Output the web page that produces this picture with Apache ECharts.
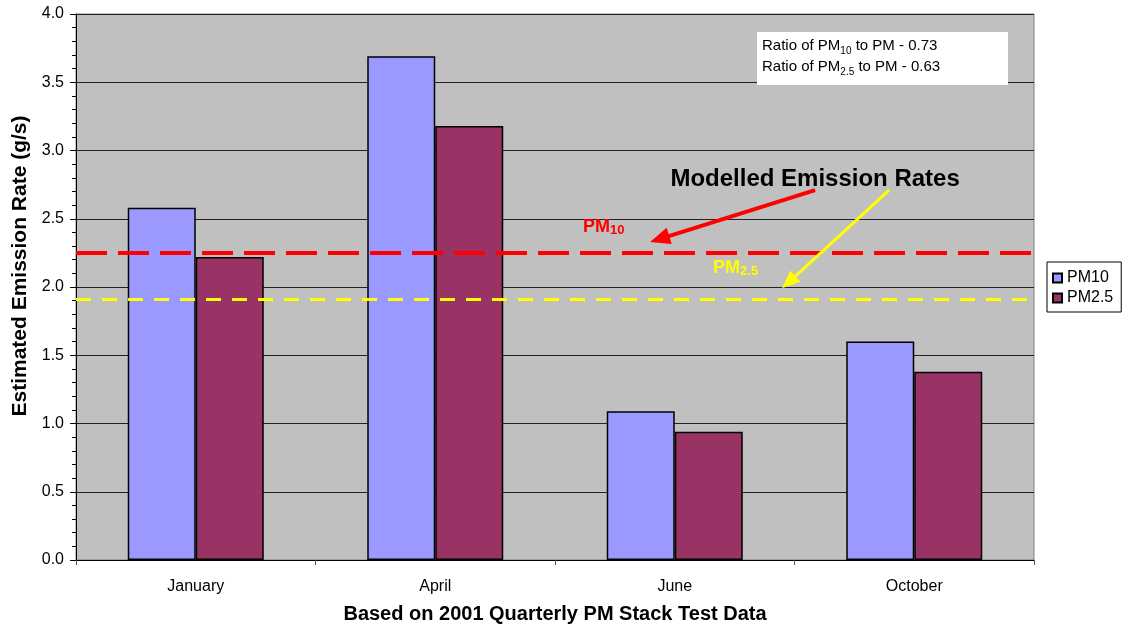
<!DOCTYPE html>
<html>
<head>
<meta charset="utf-8">
<script src="https://cdn.jsdelivr.net/npm/echarts@6/dist/echarts.min.js"></script>
<style>
  html, body { margin: 0; padding: 0; background: #ffffff; }
  #chart { width: 1122px; height: 629px; }
</style>
</head>
<body>
<div id="chart"></div>
<script>
// Quarterly stack test months
const months = ['January', 'April', 'June', 'October'];
// Estimated emission rates (g/s)
const pm10 = [2.58, 3.69, 1.09, 1.60];
const pm25 = [2.22, 3.18, 0.94, 1.38];
// Modelled emission rates (g/s)
const modelledPm10 = 2.25;
const modelledPm25 = 1.91;
// Ratios quoted in the note box
const ratioPm10 = 0.73;
const ratioPm25 = 0.63;
// Y axis range
const yMin = 0, yMax = 4, yStep = 0.5;

const FONT = "'Liberation Sans', Arial, sans-serif";
const chart = echarts.init(document.getElementById('chart'));

const option = {
  animation: false,
  backgroundColor: '#ffffff',
  textStyle: { fontFamily: FONT },
  grid: {
    left: 76, right: 88, top: 14, bottom: 69,
    show: true, backgroundColor: '#C0C0C0', borderColor: '#808080', borderWidth: 1
  },
  legend: {
    orient: 'vertical',
    left: 1047, top: 262,
    padding: [8, 8, 6, 5],
    itemGap: 4,
    itemWidth: 9, itemHeight: 9,
    icon: 'rect',
    backgroundColor: '#ffffff',
    borderColor: '#000000', borderWidth: 1,
    textStyle: { fontSize: 16, color: '#000', fontFamily: FONT },
    data: ['PM10', 'PM2.5']
  },
  xAxis: [{
    type: 'category',
    data: months,
    name: 'Based on 2001 Quarterly PM Stack Test Data',
    nameLocation: 'middle',
    nameGap: 44,
    nameTextStyle: { fontSize: 20, fontWeight: 'bold', color: '#000', fontFamily: FONT },
    axisLine: { lineStyle: { color: '#000', width: 1 } },
    axisTick: { show: true, alignWithLabel: false, interval: 0, length: 5, lineStyle: { color: '#555' } },
    axisLabel: { fontSize: 16, color: '#000', margin: 19, fontFamily: FONT },
    splitLine: { show: false }
  }, {
    // value axis spanning the same width, used to place the annotations
    type: 'value', min: 0, max: 4, show: false
  }],
  yAxis: {
    type: 'value',
    min: yMin, max: yMax, interval: yStep,
    axisLine: { show: true, lineStyle: { color: '#000', width: 1 } },
    axisTick: { show: true, length: 6, lineStyle: { color: '#000' } },
    minorTick: { show: true, splitNumber: 5, length: 4, lineStyle: { color: '#000' } },
    axisLabel: { fontSize: 16, color: '#000', margin: 12, fontFamily: FONT,
      formatter: v => v.toFixed(1) },
    splitLine: { show: true, lineStyle: { color: '#222', width: 1 } }
  },
  series: [{
    name: 'PM10',
    type: 'bar',
    data: pm10,
    barWidth: 68,
    barGap: '0%',
    itemStyle: { color: '#9999FF', borderColor: '#000', borderWidth: 1.5 },
    markLine: {
      silent: true,
      symbol: ['none', 'none'],
      label: { show: false },
      z: 5,
      data: [
        { yAxis: modelledPm10, lineStyle: { color: '#FF0000', width: 4, type: [31, 11] } },
        { yAxis: modelledPm25, lineStyle: { color: '#FFFF00', width: 3, type: [15, 11] } }
      ]
    }
  }, {
    name: 'PM2.5',
    type: 'bar',
    data: pm25,
    barWidth: 68,
    barGap: '0%',
    itemStyle: { color: '#993366', borderColor: '#000', borderWidth: 1.5 }
  }]
};
chart.setOption(option);

// Annotation anchors in data space (x: 0..4 across the categories, y: g/s)
const px = p => chart.convertToPixel({ xAxisIndex: 1, yAxisIndex: 0 }, p);

function arrow(from, to, color, width, headLen, headW) {
  const a = px(from), b = px(to);
  const dx = b[0] - a[0], dy = b[1] - a[1];
  const len = Math.hypot(dx, dy), ux = dx / len, uy = dy / len;
  const bx = b[0] - ux * headLen, by = b[1] - uy * headLen;
  const nx = -uy * headW / 2, ny = ux * headW / 2;
  return [{
    type: 'line', z: 20,
    shape: { x1: a[0], y1: a[1], x2: bx + ux * 2, y2: by + uy * 2 },
    style: { stroke: color, lineWidth: width }
  }, {
    type: 'polygon', z: 20,
    shape: { points: [[b[0], b[1]], [bx + nx, by + ny], [bx - nx, by - ny]] },
    style: { fill: color }
  }];
}

const title = px([3.086, 2.79]);
const lbl10 = px([2.117, 2.37]);
const lbl25 = px([2.66, 2.07]);
const yTitle = [20, 266];

const graphics = [
  // y axis title
  {
    type: 'text', z: 21, x: yTitle[0], y: yTitle[1],
    rotation: Math.PI / 2,
    style: { text: 'Estimated Emission Rate (g/s)', font: 'bold 21px ' + FONT, fill: '#000',
      align: 'center', verticalAlign: 'middle' }
  },
  // note box with the ratios
  {
    type: 'rect', z: 20, left: 757, top: 32,
    shape: { width: 251, height: 53 },
    style: { fill: '#ffffff' }
  },
  {
    type: 'text', z: 21, left: 762, top: 35,
    style: {
      text: 'Ratio of PM{s|10} to PM - ' + ratioPm10.toFixed(2) + '\nRatio of PM{s|2.5} to PM - ' + ratioPm25.toFixed(2),
      font: '15px ' + FONT, fill: '#000', lineHeight: 21,
      rich: { s: { fontSize: 10, fontFamily: FONT, fill: '#000', verticalAlign: 'bottom', lineHeight: 14 } }
    }
  },
  {
    type: 'text', z: 21, x: title[0], y: title[1],
    style: { text: 'Modelled Emission Rates', font: 'bold 24px ' + FONT, fill: '#000',
      align: 'center', verticalAlign: 'middle' }
  },
  {
    type: 'text', z: 21, x: lbl10[0], y: lbl10[1],
    style: { text: 'PM{s|10}', font: 'bold 18px ' + FONT, fill: '#FF0000', verticalAlign: 'bottom',
      rich: { s: { fontSize: 13, fontWeight: 'bold', fontFamily: FONT, fill: '#FF0000', verticalAlign: 'bottom' } } }
  },
  {
    type: 'text', z: 21, x: lbl25[0], y: lbl25[1],
    style: { text: 'PM{s|2.5}', font: 'bold 18px ' + FONT, fill: '#FFFF00', verticalAlign: 'bottom',
      rich: { s: { fontSize: 13, fontWeight: 'bold', fontFamily: FONT, fill: '#FFFF00', verticalAlign: 'bottom' } } }
  }
].concat(
  arrow([3.086, 2.71], [2.397, 2.33], '#FF0000', 4, 20, 17),
  arrow([3.395, 2.71], [2.948, 1.99], '#FFFF00', 3, 18, 15)
);

chart.setOption({ graphic: graphics });
</script>
</body>
</html>
